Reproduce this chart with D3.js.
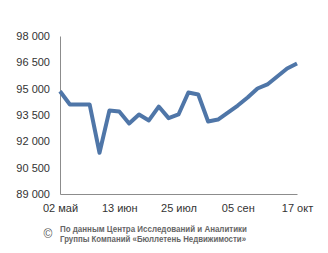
<!DOCTYPE html>
<html>
<head>
<meta charset="utf-8">
<script src="https://cdn.jsdelivr.net/npm/d3@7"></script>
<style>
  body { margin: 0; background: #fff; }
  svg { display: block; font-family: "Liberation Sans", Arial, sans-serif; }
</style>
</head>
<body>
<svg id="chart" width="328" height="253"></svg>
<script>
const dates = [
  "2011-05-02", "2011-05-09", "2011-05-16", "2011-05-23", "2011-05-30",
  "2011-06-06", "2011-06-13", "2011-06-20", "2011-06-27", "2011-07-04",
  "2011-07-11", "2011-07-18", "2011-07-25", "2011-08-01", "2011-08-08",
  "2011-08-15", "2011-08-22", "2011-08-29", "2011-09-05", "2011-09-12",
  "2011-09-19", "2011-09-26", "2011-10-03", "2011-10-10", "2011-10-17"
];
const prices = [
  94850, 94100, 94100, 94100, 91350,
  93750, 93700, 93020, 93530, 93190,
  93980, 93320, 93530, 94780, 94670,
  93130, 93240, 93640, 94040, 94500,
  95010, 95240, 95690, 96150, 96430
];
const xTicks = ["2011-05-02", "2011-06-13", "2011-07-25", "2011-09-05", "2011-10-17"];
const yTicks = [89000, 90500, 92000, 93500, 95000, 96500, 98000];
const months = ["янв", "фев", "мар", "апр", "май", "июн", "июл", "авг", "сен", "окт", "ноя", "дек"];
const source = [
  "По данным Центра Исследований и Аналитики",
  "Группы Компаний «Бюллетень Недвижимости»"
];

const parse = d3.timeParse("%Y-%m-%d");
const data = dates.map((d, i) => ({ date: parse(d), value: prices[i] }));

const svg = d3.select("#chart");
const margin = { top: 36, right: 31, bottom: 59, left: 60 };
const width = 328, height = 253;

const x = d3.scaleTime()
  .domain(d3.extent(data, d => d.date))
  .range([margin.left, width - margin.right]);

const y = d3.scaleLinear()
  .domain([89000, 98000])
  .range([height - margin.bottom, margin.top]);

const fmtNum = v => d3.format(",")(v).replace(",", " ");
const fmtDate = d => d3.timeFormat("%d")(d) + " " + months[d.getMonth()];

svg.append("g")
  .attr("transform", `translate(${margin.left},0)`)
  .call(d3.axisLeft(y).tickValues(yTicks).tickFormat(fmtNum).tickSize(0).tickPadding(10))
  .call(g => g.select(".domain").attr("stroke", "#8c8c8c"))
  .call(g => g.selectAll("text").attr("fill", "#333").style("font-size", "11px"));

svg.append("g")
  .attr("transform", `translate(0,${y(89000)})`)
  .call(d3.axisBottom(x).tickValues(xTicks.map(parse)).tickFormat(fmtDate).tickSize(0).tickPadding(10))
  .call(g => g.select(".domain").attr("stroke", "#8c8c8c"))
  .call(g => g.selectAll("text").attr("fill", "#333").style("font-size", "11px"));

svg.append("path")
  .datum(data)
  .attr("fill", "none")
  .attr("stroke", "#4f76a8")
  .attr("stroke-width", 4)
  .attr("stroke-linejoin", "round")
  .attr("d", d3.line().x(d => x(d.date)).y(d => y(d.value)));

svg.append("text")
  .attr("x", 48)
  .attr("y", 238)
  .attr("text-anchor", "middle")
  .attr("fill", "#555")
  .style("font-size", "12px")
  .text("©");

svg.selectAll(".src")
  .data(source)
  .join("text")
  .attr("class", "src")
  .attr("x", 60)
  .attr("y", (d, i) => 232 + i * 10)
  .attr("fill", "#666")
  .attr("font-weight", "bold")
  .attr("textLength", (d, i) => i === 0 ? 187 : 186)
  .attr("lengthAdjust", "spacingAndGlyphs")
  .style("font-size", "9px")
  .text(d => d);
</script>
</body>
</html>
